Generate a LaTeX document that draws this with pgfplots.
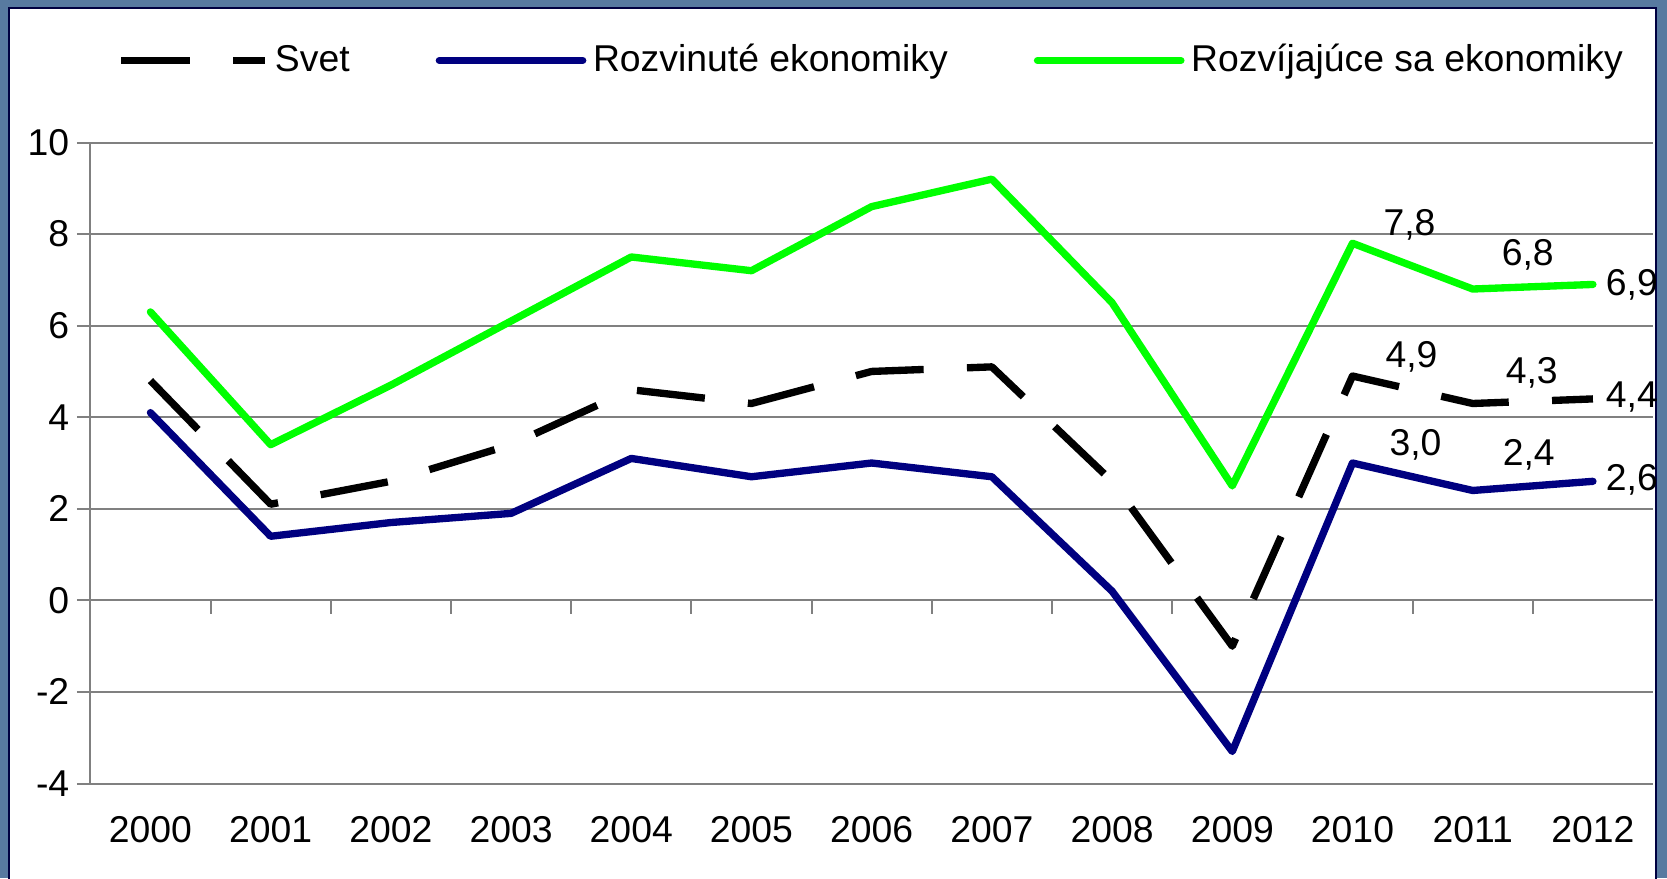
\documentclass[border=0pt]{standalone}
\usepackage{fontspec}
\setmainfont{Liberation Sans}
\usepackage{pgfplots}
\pgfplotsset{compat=1.18}
\usepackage{pgfplotstable}

\definecolor{bgblue}{RGB}{88,122,160}
\definecolor{svetc}{RGB}{0,0,0}
\definecolor{rozv}{RGB}{0,0,128}
\definecolor{rozvij}{RGB}{0,255,0}
\definecolor{gridgray}{RGB}{128,128,128}

% rast HDP (%), 2000-2012
\pgfplotstableread{
x svet rozv rozvij
0  4.8  4.1  6.3
1  2.1  1.4  3.4
2  2.6  1.7  4.7
3  3.4  1.9  6.1
4  4.6  3.1  7.5
5  4.3  2.7  7.2
6  5.0  3.0  8.6
7  5.1  2.7  9.2
8  2.6  0.2  6.5
9  -1.0 -3.3 2.5
10 4.9  3.0  7.8
11 4.3  2.4  6.8
12 4.4  2.6  6.9
}\data

% popisky poslednych bodov: x y posun-x posun-y
\pgfplotstableread{
x y dx dy
10 4.9 17.7 5.7
11 4.3 17.7 9.1
12 4.4 11.7 0.5
}\lblsvet
\pgfplotstableread{
x y dx dy
10 3.0 18.9 5.4
11 2.4 16.8 10.6
12 2.6 11.7 0.3
}\lblrozv
\pgfplotstableread{
x y dx dy
10 7.8 17.1 5.4
11 6.8 16.5 10.2
12 6.9 11.7 0.0
}\lblrozvij

\pgfplotsset{
  popisky/.style={draw=none, forget plot,
    visualization depends on={\thisrow{dx}\as\dx},
    visualization depends on={\thisrow{dy}\as\dy},
    nodes near coords={\pgfmathprintnumber[fixed,fixed zerofill,precision=1,use comma]{\pgfplotspointmeta}},
    nodes near coords style={font=\fontsize{11.2}{13}\selectfont, anchor=center,
      xshift=\dx pt, yshift=\dy pt, text=black}},
}

\begin{document}
\begin{tikzpicture}
\fill[bgblue, use as bounding box] (-27.1pt,-28.35pt) rectangle (473pt,235.05pt);
\filldraw[fill=white, draw=black!75!blue, line width=0.6pt] (-24.4pt,-32pt) rectangle (469.7pt,232.65pt);
\begin{axis}[
  scale only axis, width=468.8pt, height=192.3pt,
  xmin=-0.5, xmax=12.5, ymin=-4, ymax=10,
  xtick={0,1,...,12},
  xticklabels={2000,2001,2002,2003,2004,2005,2006,2007,2008,2009,2010,2011,2012},
  ytick={-4,-2,...,10},
  axis x line*=bottom, x axis line style={draw=none},
  axis y line*=left, y axis line style={gridgray, line width=0.6pt},
  xtick style={draw=none},
  ytick style={gridgray, line width=0.6pt},
  tick align=outside, major tick length=4pt,
  ymajorgrids, grid style={gridgray, line width=0.6pt},
  tick label style={font=\fontsize{11.2}{13}\selectfont},
  /pgf/number format/assume math mode=true,
  xticklabel style={yshift=-2.2pt},
  yticklabel style={xshift=1.2pt},
  legend style={at={(0,1)}, anchor=west, xshift=8pt, yshift=24.6pt,
    draw=none, fill=none, inner sep=0pt,
    font=\fontsize{11.2}{13}\selectfont,
    nodes={inner sep=2pt},
    /tikz/every even column/.append style={column sep=23.8pt}},
  legend columns=3,
  legend image code/.code={\draw[#1] (0pt,0pt) -- (43pt,0pt);},
]
% os x v nule s dielikmi medzi rokmi
\draw[gridgray, line width=0.6pt] (axis cs:-0.5,0) -- (axis cs:12.5,0);
\pgfplotsinvokeforeach{0.5,1.5,...,11.5}{
  \draw[gridgray, line width=0.6pt] (axis cs:#1,0) -- ++(0pt,-4pt);
}
\addplot[svetc, line width=2.2pt, dash pattern=on 20.5pt off 13pt, line cap=butt, line join=round]
  table[x=x,y=svet]{\data};
\addlegendentry{Svet}
\addplot[rozv, line width=2.2pt, line cap=round, line join=round]
  table[x=x,y=rozv]{\data};
\addlegendentry{Rozvinuté ekonomiky}
\addplot[rozvij, line width=2.2pt, line cap=round, line join=round]
  table[x=x,y=rozvij]{\data};
\addlegendentry{Rozvíjajúce sa ekonomiky}
\addplot[popisky] table[x=x,y=y]{\lblsvet};
\addplot[popisky] table[x=x,y=y]{\lblrozv};
\addplot[popisky] table[x=x,y=y]{\lblrozvij};
\end{axis}
\end{tikzpicture}
\end{document}
